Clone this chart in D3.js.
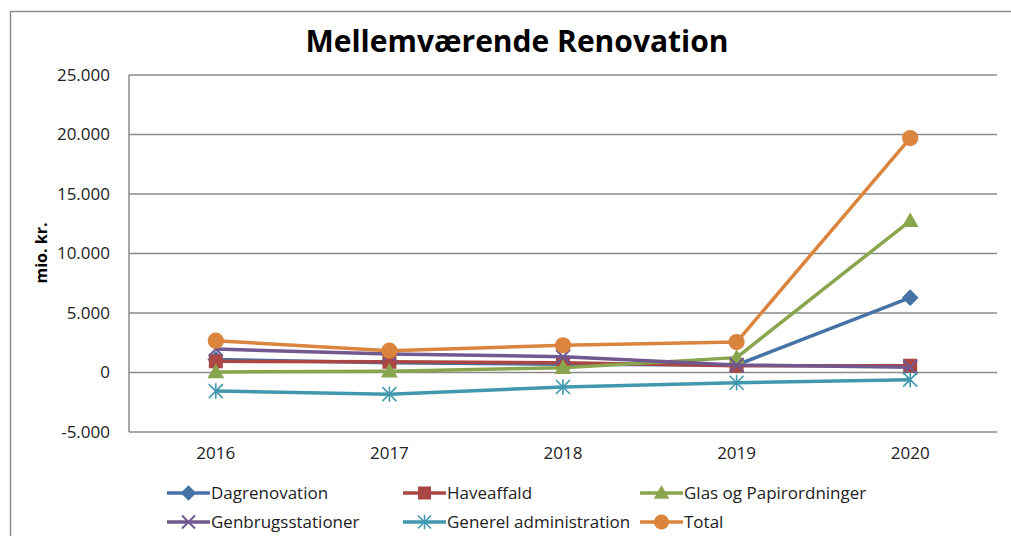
<!DOCTYPE html>
<html>
<head>
<meta charset="utf-8">
<script src="https://cdn.jsdelivr.net/npm/d3@7"></script>
<style>
  body { margin: 0; background: #fff; }
  text { font-family: 'Open Sans', 'Liberation Sans', sans-serif; fill: #222; }
</style>
</head>
<body>
<div id="chart"></div>
<script>
const years = ['2016', '2017', '2018', '2019', '2020']
const yTicks = [-5000, 0, 5000, 10000, 15000, 20000, 25000]

const dagrenovation = [1100, 820, 700, 630, 6290]
const haveaffald = [940, 900, 820, 570, 570]
const glas = [50, 100, 400, 1250, 12750]
const genbrug = [1970, 1550, 1330, 630, 440]
const generel = [-1560, -1820, -1220, -860, -600]
const total = [2670, 1830, 2290, 2560, 19700]

const series = [
  { name: 'Dagrenovation', values: dagrenovation, color: '#4572A7', marker: 'diamond' },
  { name: 'Haveaffald', values: haveaffald, color: '#AA4643', marker: 'square' },
  { name: 'Glas og Papirordninger', values: glas, color: '#89A54E', marker: 'triangle' },
  { name: 'Genbrugsstationer', values: genbrug, color: '#71588F', marker: 'x' },
  { name: 'Generel administration', values: generel, color: '#4198AF', marker: 'star' },
  { name: 'Total', values: total, color: '#DB843D', marker: 'circle' }
]

const width = 1011
const height = 536
const plot = { left: 129, right: 997, top: 75, bottom: 432 }

const svg = d3.select('#chart')
  .append('svg')
  .attr('width', width)
  .attr('height', height)

// outer chart frame (runs off the right/bottom edge in the reference)
svg.append('rect')
  .attr('x', 10.5)
  .attr('y', 11.5)
  .attr('width', 1020)
  .attr('height', 560)
  .attr('fill', 'none')
  .attr('stroke', '#8c8c8c')
  .attr('stroke-width', 1.5)

const x = d3.scaleBand().domain(years).range([plot.left, plot.right])
const y = d3.scaleLinear().domain([-5000, 25000]).range([plot.bottom, plot.top])

const fmt = (v) => d3.format(',')(v).replace(/,/g, '.').replace('\u2212', '-')

// gridlines
svg.append('g')
  .selectAll('line')
  .data(yTicks)
  .enter()
  .append('line')
  .attr('x1', plot.left)
  .attr('x2', plot.right)
  .attr('y1', (d) => y(d))
  .attr('y2', (d) => y(d))
  .style('stroke', '#8a8a8a')
  .style('stroke-width', 1.5)

// y axis line
svg.append('line')
  .attr('x1', plot.left)
  .attr('x2', plot.left)
  .attr('y1', plot.top)
  .attr('y2', plot.bottom)
  .style('stroke', '#8a8a8a')
  .style('stroke-width', 1.5)

// y tick labels
svg.append('g')
  .selectAll('text')
  .data(yTicks)
  .enter()
  .append('text')
  .attr('x', 110)
  .attr('y', (d) => y(d))
  .attr('dy', '0.35em')
  .attr('text-anchor', 'end')
  .style('font-size', '17px')
  .text((d) => fmt(d))

// x labels
svg.append('g')
  .selectAll('text')
  .data(years)
  .enter()
  .append('text')
  .attr('x', (d) => x(d) + x.bandwidth() / 2)
  .attr('y', 453)
  .attr('dy', '0.35em')
  .attr('text-anchor', 'middle')
  .style('font-size', '17px')
  .text((d) => d)

// title
svg.append('text')
  .attr('x', 517)
  .attr('y', 52)
  .attr('text-anchor', 'middle')
  .style('font-size', '30px')
  .style('font-weight', 'bold')
  .style('fill', '#000')
  .text('Mellemværende Renovation')

// y axis title
svg.append('text')
  .attr('transform', 'translate(47, 253) rotate(-90)')
  .attr('text-anchor', 'middle')
  .style('font-size', '16px')
  .style('font-weight', 'bold')
  .style('fill', '#000')
  .text('mio. kr.')

function drawMarker (g, type, color, size) {
  const s = size
  if (type === 'diamond') {
    g.append('path').attr('d', `M0,${-s * 0.6}L${s * 0.6},0L0,${s * 0.6}L${-s * 0.6},0Z`).attr('fill', color)
  } else if (type === 'square') {
    g.append('rect').attr('x', -s / 2).attr('y', -s / 2).attr('width', s).attr('height', s).attr('fill', color)
  } else if (type === 'triangle') {
    g.append('path').attr('d', `M0,${-s * 0.6}L${s * 0.6},${s * 0.45}L${-s * 0.6},${s * 0.45}Z`).attr('fill', color)
  } else if (type === 'x') {
    const h = s * 0.5
    g.append('path').attr('d', `M${-h},${-h}L${h},${h}M${-h},${h}L${h},${-h}`)
      .attr('stroke', color).attr('stroke-width', 2).attr('fill', 'none')
  } else if (type === 'star') {
    const h = s * 0.5
    g.append('path').attr('d', `M${-h},${-h}L${h},${h}M${-h},${h}L${h},${-h}M0,${-h * 1.1}L0,${h * 1.1}`)
      .attr('stroke', color).attr('stroke-width', 1.6).attr('fill', 'none')
  } else if (type === 'circle') {
    g.append('circle').attr('r', s * 0.58).attr('fill', color)
  }
}

const line = d3.line()
  .x((d, i) => x(years[i]) + x.bandwidth() / 2)
  .y((d) => y(d))

series.forEach((s) => {
  const g = svg.append('g').attr('class', 'series')
  g.append('path')
    .datum(s.values)
    .attr('d', line)
    .attr('fill', 'none')
    .attr('stroke', s.color)
    .attr('stroke-width', 3.5)
    .attr('stroke-linejoin', 'round')
  s.values.forEach((v, i) => {
    const m = g.append('g')
      .attr('transform', `translate(${x(years[i]) + x.bandwidth() / 2}, ${y(v)})`)
    drawMarker(m, s.marker, s.color, 14)
  })
})

// legend
const legendCols = [167, 403, 640]
const legendRows = [493, 522]
series.forEach((s, i) => {
  const lx = legendCols[i % 3]
  const ly = legendRows[Math.floor(i / 3)]
  const g = svg.append('g').attr('transform', `translate(${lx}, ${ly})`)
  g.append('line')
    .attr('x1', 0)
    .attr('x2', 43)
    .attr('y1', 0)
    .attr('y2', 0)
    .attr('stroke', s.color)
    .attr('stroke-width', 3.5)
  const m = g.append('g').attr('transform', 'translate(21.5, 0)')
  drawMarker(m, s.marker, s.color, 13)
  g.append('text')
    .attr('x', 44)
    .attr('y', 0)
    .attr('dy', '0.35em')
    .style('font-size', '17px')
    .text(s.name)
})
</script>
</body>
</html>
